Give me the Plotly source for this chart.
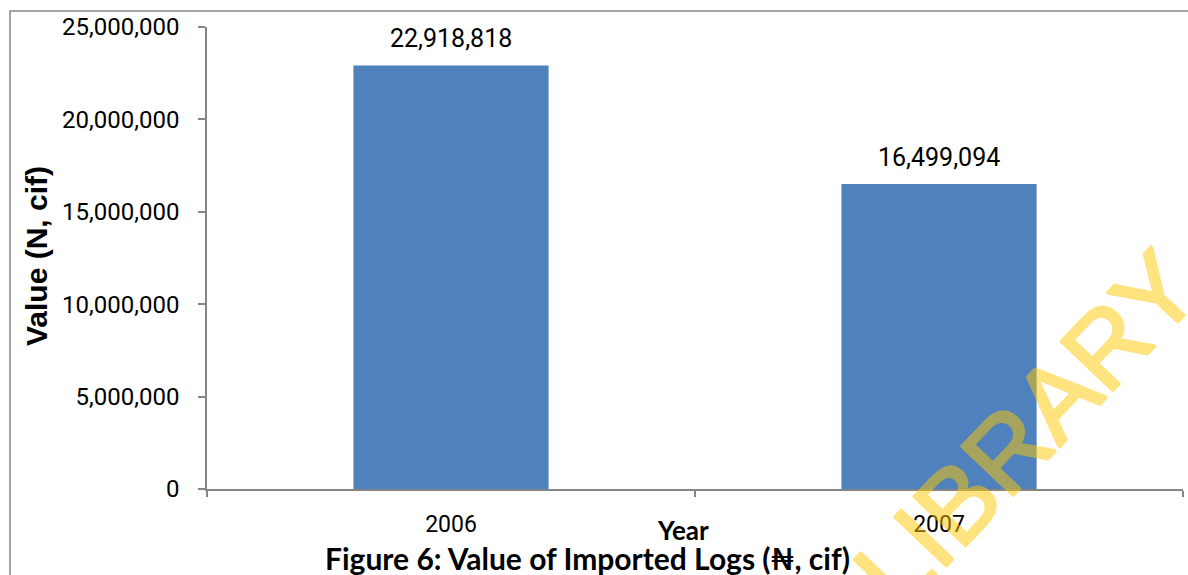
import plotly.graph_objects as go

# Imported log values by year (Naira, cif)
years = ["2006", "2007"]
values = [22918818, 16499094]

y_ticks = [0, 5000000, 10000000, 15000000, 20000000, 25000000]

NUM_FONT = "Roboto, 'Noto Sans', sans-serif"
TITLE_FONT = "Lato, 'Noto Sans', sans-serif"
ARIAL_LIKE = "'Liberation Sans', Arial, sans-serif"
AXIS_GREY = "#868686"
BAR_BLUE = "#4F81BD"
WATERMARK = "rgb(255,200,0)"

fig = go.Figure()
fig.add_trace(go.Bar(
    x=years,
    y=values,
    width=0.4,
    marker=dict(color=BAR_BLUE, line=dict(width=0)),
    hoverinfo="skip",
))

annotations = []
# value labels above each bar (category index used as x position)
for i, v in enumerate(values):
    annotations.append(dict(
        x=i, y=v, xref="x", yref="y",
        text=f"{v:,}", showarrow=False,
        yanchor="bottom", yshift=10,
        font=dict(family=NUM_FONT, size=25, color="#000000"),
    ))

# slightly heavier strokes for the watermark lettering
s = 1.1
wm_shadow = ", ".join(f"{dx}px {dy}px 0 {WATERMARK}"
                      for dx, dy in [(s, 0), (-s, 0), (0, s), (0, -s),
                                     (s, s), (-s, -s), (s, -s), (-s, s)])

# axis titles and caption
annotations += [
    dict(x=(683 - 207) / 976, y=(489 - 530) / 462, xref="paper", yref="paper",
         text="<b>Year</b>", showarrow=False, xanchor="center", yanchor="middle",
         font=dict(family=TITLE_FONT, size=26, color="#000000")),
    dict(x=(587 - 207) / 976, y=(489 - 558) / 462, xref="paper", yref="paper",
         text="<b>Figure 6: Value of Imported Logs (₦, cif)</b>", showarrow=False,
         xanchor="center", yanchor="middle",
         font=dict(family=TITLE_FONT, size=30, color="#000000")),
    dict(x=(36 - 207) / 976, y=(489 - 256) / 462, xref="paper", yref="paper",
         text="<b>Value (N, cif)</b>", showarrow=False, textangle=-90,
         xanchor="center", yanchor="middle",
         font=dict(family=ARIAL_LIKE, size=30, color="#000000")),
    # library watermark
    dict(x=(1026 - 207) / 976, y=(489 - 430) / 462, xref="paper", yref="paper",
         text="LIBRARY", showarrow=False, textangle=-46.5,
         xanchor="center", yanchor="middle", opacity=0.5,
         font=dict(family=ARIAL_LIKE, size=104, color=WATERMARK, shadow=wm_shadow)),
]

fig.update_layout(
    width=1188, height=575,
    margin=dict(l=207, r=5, t=27, b=86),
    paper_bgcolor="white", plot_bgcolor="white",
    showlegend=False,
    font=dict(family=NUM_FONT, size=23, color="#000000"),
    annotations=annotations,
    shapes=[
        # outer chart border (left and top edges visible)
        dict(type="rect", xref="paper", yref="paper",
             x0=(10 - 207) / 976, x1=1.5, y0=-1.0, y1=(489 - 11) / 462,
             line=dict(color=AXIS_GREY, width=1.5), layer="below"),
    ],
    xaxis=dict(
        type="category",
        range=[-0.5, 1.5],
        showline=True, linecolor=AXIS_GREY, linewidth=1.5,
        ticks="outside", tickson="boundaries", ticklen=6, tickcolor=AXIS_GREY, tickwidth=1.5,
        showgrid=False, zeroline=False,
        tickfont=dict(family=NUM_FONT, size=23, color="#000000"),
        ticklabelstandoff=14,
    ),
    yaxis=dict(
        range=[0, 25000000],
        tickvals=y_ticks,
        tickformat=",d",
        showline=True, linecolor=AXIS_GREY, linewidth=1.5,
        ticks="outside", ticklen=7, tickcolor=AXIS_GREY, tickwidth=1.5,
        showgrid=False, zeroline=False,
        tickfont=dict(family=NUM_FONT, size=24, color="#000000"),
        ticklabelstandoff=14,
    ),
)

fig.write_html("out.html")
